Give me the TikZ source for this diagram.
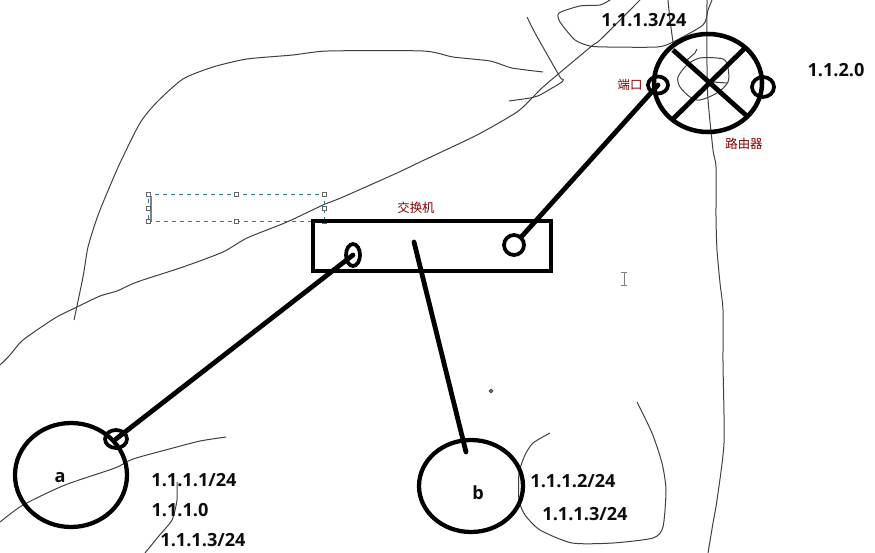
\documentclass[tikz,border=0pt]{standalone}
\usepackage{fontspec}
\setmainfont{Open Sans}
\newfontfamily\cjkfont{Noto Sans CJK SC}
\usetikzlibrary{shapes.geometric}
\definecolor{darkred}{RGB}{128,0,0}
\definecolor{selblue}{RGB}{40,120,170}
\tikzset{
  hostnode/.style={ellipse, draw=black, line width=3.2pt, inner sep=0pt},
  portnode/.style={ellipse, draw=black, line width=2.8pt, inner sep=0pt},
  addr/.style={rectangle, draw=none, inner sep=0pt, text=black!95, font=\bfseries\fontsize{13.6}{15}\selectfont},
  note/.style={rectangle, draw=none, inner sep=0pt, text=darkred, font=\cjkfont\fontsize{9.3}{11}\selectfont},
  link/.style={line width=3.6pt, line cap=round},
  sketch/.style={line width=0.75pt, black!75, line join=round},
  handle/.style={rectangle, draw=black!60, fill=white, line width=0.5pt, inner sep=0pt, minimum size=3.2pt},
}
\begin{document}
\begin{tikzpicture}[x=0.75pt, y=-0.75pt]
\useasboundingbox (0,0) rectangle (875,553);
%%%%%%%%%%%%%%%%%%%%%%%%%%%%%%% Freehand scribbles
\draw[sketch] plot[smooth, tension=0.4] coordinates {(0,365) (10,355) (23,340) (55,318) (77,307) (100,296) (117,291) (137,282) (183,267) (223,252) (247,238) (287,222) (323,205) (343,197) (397,173) (420,162) (477,135) (517,112) (533,97) (543,87) (563,70) (593,45) (600,40) (640,0)};
\draw[sketch] plot[smooth, tension=0.4] coordinates {(74,320) (83,277) (88,247) (97,218) (107,193) (120,163) (140,123) (157,102) (183,79) (213,67) (247,59) (293,55) (328,51) (423,51) (453,57) (490,61) (512,68) (543,72)};
\draw[sketch] plot[smooth, tension=0.3] coordinates {(527,17) (535,33) (560,77) (563,79) (562,82) (540,95) (530,98) (509,101)};
\draw[sketch] plot[smooth, tension=0.4] coordinates {(610,0) (600,5) (580,6) (559,13) (560,22) (575,40) (590,46) (607,47) (657,47) (673,42) (703,25) (708,10) (712,0)};
\draw[sketch] plot[smooth, tension=0.4] coordinates {(668,0) (670,20) (673,42)};
\draw[sketch] plot[smooth, tension=0.4] coordinates {(707,0) (707,67) (708,100) (713,150) (716,167) (716,217) (717,250) (720,283) (723,310) (723,363) (724,443) (717,500) (713,523) (708,553)};
\draw[sketch] plot[smooth cycle, tension=0.5] coordinates {(678,77) (687,65) (700,58) (723,59) (728,68) (728,82) (717,93) (700,100) (690,97) (680,87)};
\draw[sketch] (697,49) -- (695,53) -- (687,60);
\draw[sketch] (713,82) -- (727,83);
\draw[sketch] plot[smooth, tension=0.4] coordinates {(0,522) (23,505) (65,485) (115,468) (133,459) (173,448) (200,441) (226,437)};
\draw[sketch] plot[smooth, tension=0.4] coordinates {(177,482) (177,500) (172,520) (158,537) (145,553)};
\draw[sketch] plot[smooth, tension=0.4] coordinates {(550,433) (533,443) (525,455) (519,473) (519,500) (525,515) (540,530) (572,543) (613,543) (653,538) (663,527) (666,490) (662,463) (652,433) (637,402)};
%%%%%%%%%%%%%%%%%%%%%%%%%%%%%%% Selection box with its handles
\node[rectangle, draw=selblue, dashed, line width=0.6pt, inner sep=0pt, minimum width=132pt, minimum height=20.25pt](selBox) at (236,207.5){};
\draw[line width=0.8pt, black!50] (151,196) -- (151,221);
\node[handle](hdA) at (148,194){};
\node[handle](hdB) at (236,194){};
\node[handle](hdC) at (324,194){};
\node[handle](hdD) at (148,208){};
\node[handle](hdE) at (324,208){};
\node[handle](hdF) at (148,221){};
\node[handle](hdG) at (236,221){};
\node[handle](hdH) at (324,221){};
%%%%%%%%%%%%%%%%%%%%%%%%%%%%%%% Switch
\node[rectangle, draw=black, line width=3pt, inner sep=0pt, minimum width=178.5pt, minimum height=37.5pt](switchBox) at (432,246){};
\node[note](switchNote) at (416,208){交换机};
\node[portnode, minimum width=10.5pt, minimum height=16.5pt](portSwL) at (353,255){};
\node[portnode, minimum width=15pt, minimum height=15pt](portSwR) at (514,245){};
%%%%%%%%%%%%%%%%%%%%%%%%%%%%%%% Router
\node[hostnode, line width=3.4pt, minimum width=81pt, minimum height=73.5pt](router) at (708,83){};
\coordinate (crossA) at (673,50);
\coordinate (crossB) at (748,117);
\coordinate (crossC) at (745,48);
\coordinate (crossD) at (673,119);
\draw[link, line cap=butt] (crossA) -- (crossB);
\draw[link, line cap=butt] (crossC) -- (crossD);
\node[portnode, minimum width=15pt, minimum height=12.75pt](portRtL) at (658,85){};
\node[portnode, minimum width=16.5pt, minimum height=15pt](portRtR) at (763,87){};
\node[note](portNote) at (630,85){端口};
\node[note](routerNote) at (744,144){路由器};
\node[addr](addrTop) at (644,20){1.1.1.3/24};
\node[addr](addrRt) at (836,70){1.1.2.0};
%%%%%%%%%%%%%%%%%%%%%%%%%%%%%%% Hosts
\node[hostnode, minimum width=84pt, minimum height=78pt](hostA) at (71,475){};
\node[portnode, minimum width=16.5pt, minimum height=13.5pt](portA) at (116,439){};
\node[addr](labelA) at (60,478){a};
\node[addr](addrA1) at (194,480){1.1.1.1/24};
\node[addr](addrA2) at (180,510){1.1.1.0};
\node[addr](addrA3) at (203,540){1.1.1.3/24};
\node[hostnode, minimum width=78pt, minimum height=69pt](hostB) at (471,486){};
\node[addr](labelB) at (478,493){b};
\node[addr](addrB1) at (573,481){1.1.1.2/24};
\node[addr](addrB2) at (585,514){1.1.1.3/24};
%%%%%%%%%%%%%%%%%%%%%%%%%%%%%%% Links
\coordinate (swMid) at (414,242);
\coordinate (hostBEnd) at (466,452);
\draw[link] (portRtL.center) -- (portSwR);
\draw[link] (portSwL.center) -- (portA.center);
\draw[link] (swMid) -- (hostBEnd);
%%%%%%%%%%%%%%%%%%%%%%%%%%%%%%% Stray marks
\node[circle, draw=black!80, line width=0.8pt, inner sep=0pt, minimum size=2.6pt](strayDot) at (491,391){};
\draw[line width=0.6pt, black!50] (624,272) -- (624,285) (621,272) -- (627,272) (621,285) -- (627,285);
\end{tikzpicture}
\end{document}
